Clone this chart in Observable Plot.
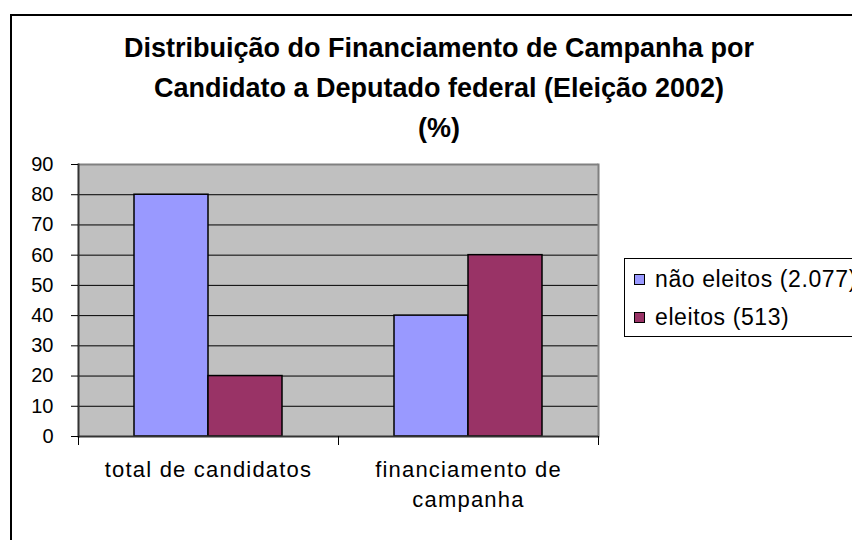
<!DOCTYPE html>
<html>
<head>
<meta charset="utf-8">
<script src="https://cdn.jsdelivr.net/npm/d3@7"></script>
<script src="https://cdn.jsdelivr.net/npm/@observablehq/plot@0.6"></script>
<style>
  html, body { margin: 0; padding: 0; background: #fff; }
  body { width: 852px; height: 540px; position: relative; overflow: hidden; font-family: "Liberation Sans", Arial, sans-serif; }
  #frame { position: absolute; left: 10px; top: 14px; width: 900px; height: 600px; border-left: 2px solid #000; border-top: 2px solid #000; box-sizing: border-box; }
  #title { position: absolute; left: 10px; width: 858px; top: 28px; text-align: center; font-weight: bold; font-size: 27px; line-height: 40px; color: #000; }
  #chart { position: absolute; left: 0; top: 150px; }
  #legend { position: absolute; left: 624px; top: 258px; width: 260px; height: 79px; border: 1px solid #000; box-sizing: border-box; background: #fff; font-size: 23px; letter-spacing: 0.6px; }
  .item { position: absolute; left: 9px; display: flex; align-items: center; white-space: nowrap; }
  .sw { width: 9px; height: 9px; border: 1px solid #000; margin-right: 10px; }
  #chart svg g[aria-label="fx-axis tick label"] text { letter-spacing: 1.2px; }
</style>
</head>
<body>
<div id="frame"></div>
<div id="title">Distribuição do Financiamento de Campanha por<br>Candidato a Deputado federal (Eleição 2002)<br>(%)</div>
<div id="chart"></div>
<div id="legend"></div>
<script>
const categories = ["total de candidatos", "financiamento de campanha"];
const seriesNames = ["não eleitos (2.077)", "eleitos (513)"];
const seriesColors = ["#9999FF", "#993366"];
const naoEleitos = [80, 40];
const eleitos = [20, 60];
const yTicks = [0, 10, 20, 30, 40, 50, 60, 70, 80, 90];

const data = [];
categories.forEach((c, i) => {
  data.push({category: c, series: seriesNames[0], value: naoEleitos[i]});
  data.push({category: c, series: seriesNames[1], value: eleitos[i]});
});

const plot = Plot.plot({
  width: 852,
  height: 390,
  marginTop: 14,
  marginBottom: 104,
  marginLeft: 77,
  marginRight: 254,
  style: {fontFamily: "Liberation Sans, Arial, sans-serif", fontSize: "20px", color: "#000", background: "transparent"},
  fx: {domain: categories, paddingInner: 0, paddingOuter: 0, label: null},
  x: {domain: seriesNames, paddingInner: 0, paddingOuter: 0.735, axis: null},
  y: {domain: [0, 90], label: null},
  color: {domain: seriesNames, range: seriesColors},
  marks: [
    Plot.frame({fill: "#C0C0C0", stroke: null, insetLeft: -0.6, insetRight: -0.6}),
    Plot.ruleY(yTicks.filter(d => d > 0 && d < 90), {stroke: "#000", strokeWidth: 1}),
    Plot.ruleY([90], {stroke: "#808080", strokeWidth: 2}),
    Plot.frame({anchor: "right", facetAnchor: "right", stroke: "#808080", strokeWidth: 2}),
    Plot.barY(data, {fx: "category", x: "series", y: "value", fill: "series", stroke: "#000", strokeWidth: 1.5}),
    Plot.frame({anchor: "left", facetAnchor: "left", stroke: "#333", strokeWidth: 2}),
    Plot.ruleY([0], {stroke: "#333", strokeWidth: 2}),
    Plot.frame({anchor: "left", insetTop: 272, insetBottom: -8, stroke: "#000", strokeWidth: 1}),
    Plot.frame({anchor: "right", facetAnchor: "right", insetTop: 272, insetBottom: -8, stroke: "#000", strokeWidth: 1}),
    Plot.axisY({ticks: yTicks, tickSize: 7, tickPadding: 18, fontSize: 20, stroke: "#000"}),
    Plot.axisFx({anchor: "bottom", tickSize: 0, tickPadding: 19, fontSize: 22, lineWidth: 10, lineHeight: 1.36, label: null})
  ]
});
document.getElementById("chart").appendChild(plot);

const legend = document.getElementById("legend");
seriesNames.forEach((s, i) => {
  const item = document.createElement("div");
  item.className = "item";
  item.style.top = (i === 0 ? 7 : 45) + "px";
  const sw = document.createElement("div");
  sw.className = "sw";
  sw.style.background = seriesColors[i];
  const t = document.createElement("span");
  t.textContent = s;
  item.appendChild(sw);
  item.appendChild(t);
  legend.appendChild(item);
});
</script>
</body>
</html>
